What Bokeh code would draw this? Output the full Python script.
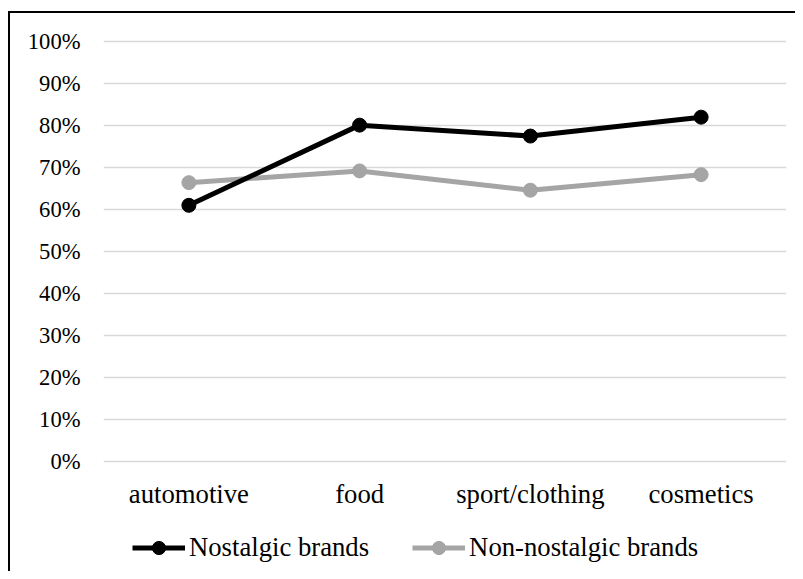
from bokeh.plotting import figure
from bokeh.models import Range1d, FactorRange, FixedTicker, PrintfTickFormatter, Legend, LegendItem
from bokeh.embed import file_html
from bokeh.resources import INLINE

categories = ["automotive", "food", "sport/clothing", "cosmetics"]
nostalgic = [61.0, 80.1, 77.5, 82.0]
non_nostalgic = [66.4, 69.2, 64.6, 68.3]
y_ticks = [0, 10, 20, 30, 40, 50, 60, 70, 80, 90, 100]
series_names = ["Nostalgic brands", "Non-nostalgic brands"]

BLACK = "#000000"
GRAY = "#A5A5A5"
FONT = "Liberation Serif"

W, H = 795, 571
p = figure(
    x_range=FactorRange(*categories, range_padding=0),
    # frame reaches the bottom of the canvas so that the legend can sit inside it
    y_range=Range1d(-26.23, 100.5),
    width=W, height=H,
    output_backend="svg", toolbar_location=None,
    min_border_left=103, min_border_right=9,
    min_border_top=39, min_border_bottom=0,
)
# chart-area border (left and top edges visible, the rest cut off) drawn behind a transparent canvas
p.styles = {
    "background": "linear-gradient(#000,#000) 8px 11px / 2px 100% no-repeat, "
                  "linear-gradient(#000,#000) 8px 11px / 100% 2px no-repeat, #ffffff"
}
p.border_fill_color = None
p.background_fill_color = None
p.outline_line_color = None

# axes
p.yaxis.ticker = FixedTicker(ticks=y_ticks)
p.yaxis.formatter = PrintfTickFormatter(format="%d%%")
for ax in (p.xaxis[0], p.yaxis[0]):
    ax.axis_line_color = None
    ax.major_tick_line_color = None
    ax.minor_tick_line_color = None
    ax.major_tick_out = 0
    ax.major_tick_in = 0
    ax.minor_tick_out = 0
    ax.minor_tick_in = 0
    ax.major_label_text_font = FONT
    ax.major_label_text_color = "black"
p.yaxis[0].major_label_text_font_size = "22.6px"
p.yaxis[0].major_label_standoff = 23
p.xaxis[0].major_label_text_font_size = "26.7px"
p.xaxis[0].major_label_standoff = 18
p.xaxis[0].fixed_location = 0

p.xgrid.grid_line_color = None
p.ygrid.grid_line_color = "#D9D9D9"
p.ygrid.grid_line_width = 1.5

r_gl = p.line(categories, non_nostalgic, line_color=GRAY, line_width=5, line_join="round")
r_gs = p.scatter(categories, non_nostalgic, size=14, fill_color=GRAY, line_color=GRAY)
r_bl = p.line(categories, nostalgic, line_color=BLACK, line_width=5, line_join="round")
r_bs = p.scatter(categories, nostalgic, size=14, fill_color=BLACK, line_color=BLACK)

legend = Legend(
    items=[LegendItem(label=series_names[0], renderers=[r_bl, r_bs]),
           LegendItem(label=series_names[1], renderers=[r_gl, r_gs])],
    location=(29, 7), orientation="horizontal",
    label_text_font=FONT, label_text_font_size="26.7px", label_text_color="black",
    glyph_width=53, glyph_height=33, label_standoff=4, spacing=43,
    padding=0, margin=0, border_line_color=None, background_fill_alpha=0,
)
p.add_layout(legend, "center")

open("out.html", "w").write(file_html(p, INLINE))
